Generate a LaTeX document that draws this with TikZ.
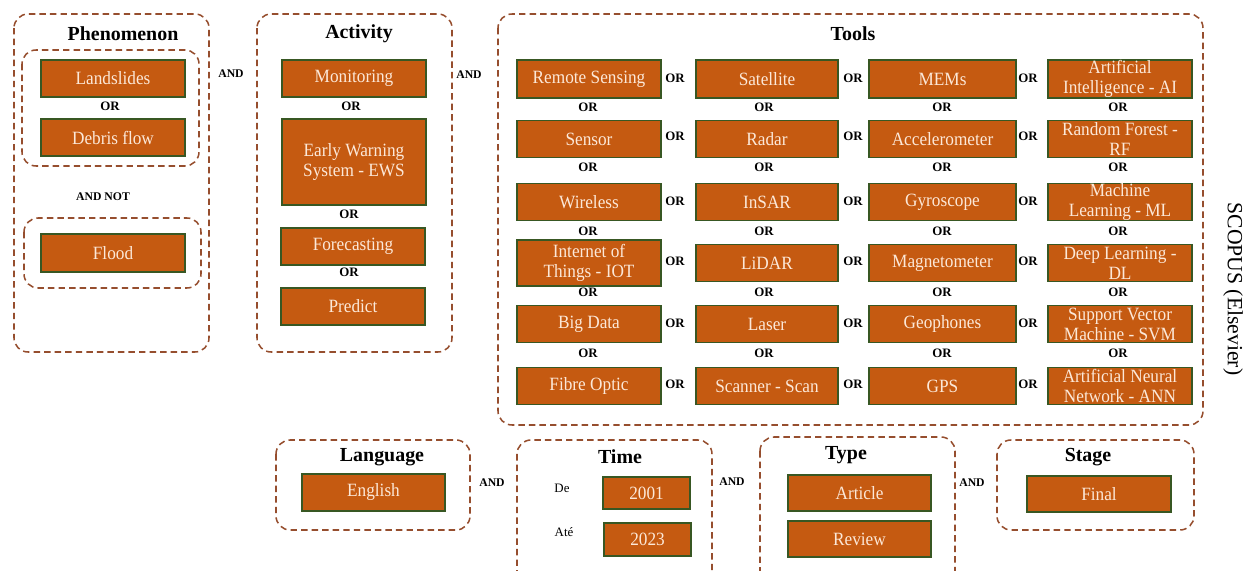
\documentclass[tikz,border=0pt]{standalone}
\usepackage{fontspec}
\setmainfont{Liberation Serif}
\newfontfamily\boxfont[FakeStretch=0.92]{Liberation Serif}
\definecolor{boxfill}{RGB}{197,90,17}
\definecolor{boxline}{RGB}{56,87,35}
\definecolor{boxtext}{RGB}{252,232,216}
\definecolor{dashc}{RGB}{150,78,46}
\tikzset{
  grp/.style={draw=dashc, line width=1.3pt, dash pattern=on 5.5pt off 3.5pt, rounded corners=12pt},
  box/.style={draw=boxline, fill=boxfill, line width=1.5pt, text=boxtext, align=center, inner sep=0pt,
    font=\boxfont\fontsize{16}{17}\selectfont},
  ttl/.style={font=\bfseries\fontsize{17}{20}\selectfont},
  orl/.style={font=\bfseries\fontsize{11}{13}\selectfont},
  andl/.style={font=\bfseries\fontsize{10}{12}\selectfont},
  lab/.style={font=\fontsize{11}{13}\selectfont}
}
\newcommand\bx[6]{\node[box,minimum width=#4*0.03cm,minimum height=#5*0.03cm] (#1) at (#2,#3) {#6};}
\begin{document}
\begin{tikzpicture}[x=0.03cm,y=-0.03cm]
\clip (0,0) rectangle (1246,571);
\fill[white] (0,0) rectangle (1246,571);
% Phenomenon
\draw[grp] (14,14) rectangle (209,352);
\node[ttl] (tph) at (123,34) {Phenomenon};
\draw[grp] (22,50) rectangle (199,166);
\bx{land}{113}{78.5}{144}{37}{Landslides}
\node[orl] (po1) at (110,106) {OR};
\bx{debris}{113}{137.5}{144}{37}{Debris flow}
\node[andl] (pan) at (103,197) {AND NOT};
\draw[grp] (24,218) rectangle (201,288);
\bx{flood}{113}{253}{144}{38}{Flood}
\node[andl] (and1) at (231,74) {AND};
% Activity
\draw[grp] (257,14) rectangle (452,352);
\node[ttl] (tac) at (359,34) {Activity};
\bx{mon}{354}{78.5}{144}{37}{Monitoring}
\node[orl] (ao1) at (351,106) {OR};
\bx{ews}{354}{162}{144}{86}{Early Warning\\System - EWS}
\node[orl] (ao2) at (349,214) {OR};
\bx{fore}{353}{246.5}{144}{37}{Forecasting}
\node[orl] (ao3) at (349,272) {OR};
\bx{pred}{353}{306.5}{144}{37}{Predict}
\node[andl] (and2) at (469,75) {AND};
% Tools
\draw[grp] (498,14) rectangle (1203,425);
\node[ttl] (tto) at (853,34) {Tools};
% row 1
\bx{t11}{589}{79}{144}{38}{Remote Sensing}
\bx{t12}{767}{79}{142}{38}{Satellite}
\bx{t13}{942.5}{79}{147}{38}{MEMs}
\bx{t14}{1120}{79}{144}{38}{Artificial\\Intelligence - AI}
% row 2
\bx{t21}{589}{139}{144}{37}{Sensor}
\bx{t22}{767}{139}{142}{37}{Radar}
\bx{t23}{942.5}{139}{147}{37}{Accelerometer}
\bx{t24}{1120}{139}{144}{37}{Random Forest -\\RF}
% row 3
\bx{t31}{589}{202}{144}{37}{Wireless}
\bx{t32}{767}{202}{142}{37}{InSAR}
\bx{t33}{942.5}{202}{147}{37}{Gyroscope}
\bx{t34}{1120}{202}{144}{37}{Machine\\Learning - ML}
% row 4
\bx{t41}{589}{263}{144}{46}{Internet of\\Things - IOT}
\bx{t42}{767}{263}{142}{37}{LiDAR}
\bx{t43}{942.5}{263}{147}{37}{Magnetometer}
\bx{t44}{1120}{263}{144}{37}{Deep Learning -\\DL}
% row 5
\bx{t51}{589}{324}{144}{37}{Big Data}
\bx{t52}{767}{324}{142}{37}{Laser}
\bx{t53}{942.5}{324}{147}{37}{Geophones}
\bx{t54}{1120}{324}{144}{37}{Support Vector\\Machine - SVM}
% row 6
\bx{t61}{589}{386}{144}{37}{Fibre Optic}
\bx{t62}{767}{386}{142}{37}{Scanner - Scan}
\bx{t63}{942.5}{386}{147}{37}{GPS}
\bx{t64}{1120}{386}{144}{37}{Artificial Neural\\Network - ANN}
% horizontal ORs
\foreach \y [count=\r] in {78,136,201,261,323,384}{
  \node[orl] (oh\r a) at (675,\y) {OR};
  \node[orl] (oh\r b) at (853,\y) {OR};
  \node[orl] (oh\r c) at (1028,\y) {OR};
}
% vertical ORs
\foreach \y [count=\r] in {107,167,231,292,353}{
  \node[orl] (ov\r a) at (588,\y) {OR};
  \node[orl] (ov\r b) at (764,\y) {OR};
  \node[orl] (ov\r c) at (942,\y) {OR};
  \node[orl] (ov\r d) at (1118,\y) {OR};
}
% SCOPUS
\node[rotate=-90, font=\fontsize{18.5}{20}\selectfont] (sco) at (1233,289) {SCOPUS (Elsevier)};
% Language
\draw[grp] (276,440) rectangle (470,530);
\node[ttl] (tla) at (382,457) {Language};
\bx{eng}{373.5}{492.5}{143}{37}{English}
\node[andl] (and3) at (492,483) {AND};
% Time
\draw[grp] (517,440) rectangle (712,600);
\node[ttl] (tti) at (620,457) {Time};
\node[lab] (de) at (562,488) {De};
\bx{y1}{646.5}{493}{87}{32}{2001}
\node[lab] (ate) at (564,532) {Até};
\bx{y2}{647.5}{539.5}{87}{33}{2023}
\node[andl] (and4) at (732,482) {AND};
% Type
\draw[grp] (760,437) rectangle (955,600);
\node[ttl] (tty) at (846,455) {Type};
\bx{art}{859.5}{493}{143}{36}{Article}
\bx{rev}{859.5}{539}{143}{36}{Review}
\node[andl] (and5) at (972,483) {AND};
% Stage
\draw[grp] (997,440) rectangle (1194,530);
\node[ttl] (tst) at (1088,457) {Stage};
\bx{fin}{1099}{494}{144}{36}{Final}
\end{tikzpicture}
\end{document}
